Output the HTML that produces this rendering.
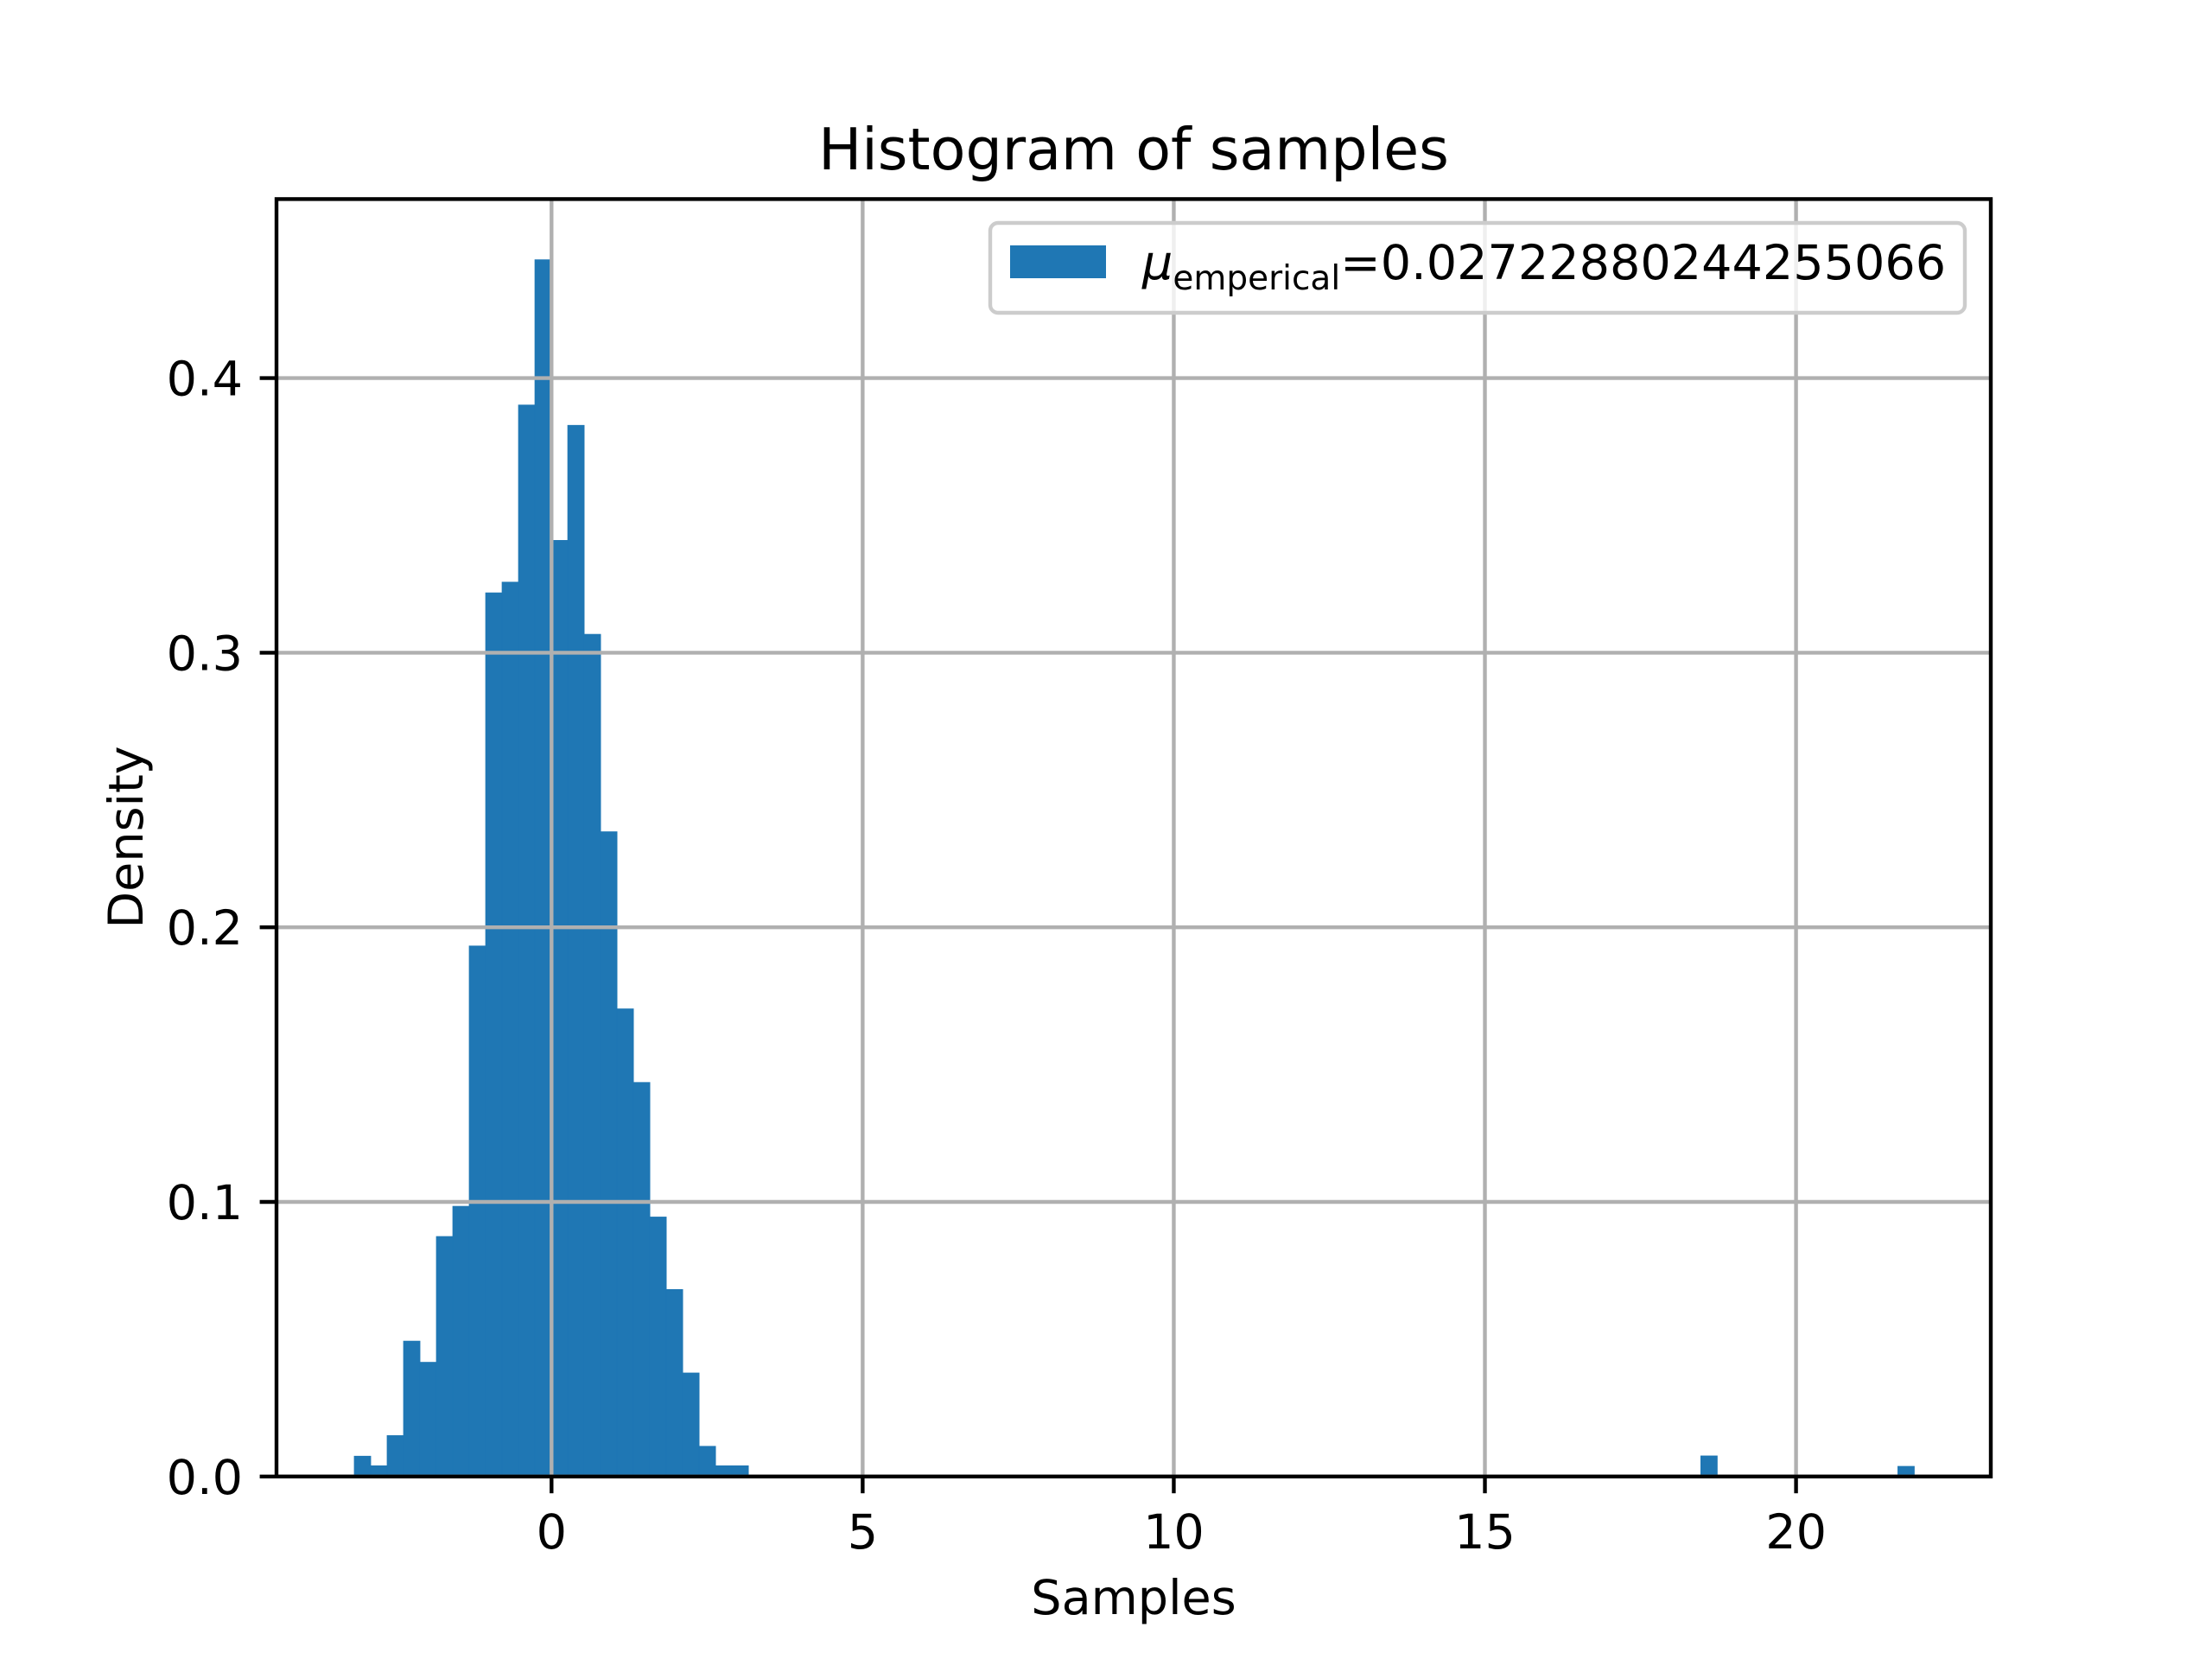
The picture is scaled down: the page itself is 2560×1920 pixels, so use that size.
<!DOCTYPE html>
<html><head><meta charset="utf-8"><style>
html,body{margin:0;padding:0;background:#fff}
svg{display:block}
text{font-family:"DejaVu Sans","Liberation Sans",sans-serif;fill:#000}
</style></head><body>
<svg id="chart" width="2560" height="1920" viewBox="0 0 2560 1920" xmlns="http://www.w3.org/2000/svg">
<rect width="2560" height="1920" fill="#fff"/>
<text x="1312" y="196" font-size="66.7" text-anchor="middle">Histogram of samples</text>
<g id="bars"></g>
<g id="grid"></g>
<g id="axes"></g>
<text x="1312" y="1868" font-size="55.6" text-anchor="middle">Samples</text>
<text transform="translate(165,969) rotate(-90)" font-size="55.6" text-anchor="middle">Density</text>
<g>
<rect x="1146" y="258" width="1128" height="104" rx="9" fill="#fff" fill-opacity="0.8" stroke="#cccccc" stroke-width="4.4"/>
<rect x="1169" y="284" width="111" height="38" fill="#1f77b4"/>
<text x="1322" y="323" font-size="55.6"><tspan font-style="italic">μ</tspan><tspan font-size="39" dy="12">emperical</tspan><tspan dy="-12">=0.02722880244255066</tspan></text>
</g>
</svg>
<script>
const binStart = -3.17;
const binWidth = 0.2639;
const binIndex = [0,1,2,3,4,5,6,7,8,9,10,11,12,13,14,15,16,17,18,19,20,21,22,23,82,94];
const density = [0.0074,0.0039,0.0149,0.0493,0.0416,0.0874,0.0984,0.1932,0.3218,0.3257,0.3902,0.4431,0.3409,0.3828,0.3067,0.2348,0.1703,0.1435,0.0945,0.0681,0.0377,0.0110,0.0039,0.0039,0.0075,0.0037];
const xTicks = [0,5,10,15,20];
const yTicks = [0.0,0.1,0.2,0.3,0.4];
const yTickLabels = ["0.0","0.1","0.2","0.3","0.4"];

const L=320,R=2304,T=230.4,B=1708.8;
const xMin=-4.42,xMax=23.13,yMin=0,yMax=0.4652;
const sx=v=>L+(v-xMin)/(xMax-xMin)*(R-L);
const sy=v=>B-(v-yMin)/(yMax-yMin)*(B-T);
const NS="http://www.w3.org/2000/svg";
function mk(tag,attrs,parent){const e=document.createElementNS(NS,tag);for(const k in attrs)e.setAttribute(k,attrs[k]);parent.appendChild(e);return e;}
const bars=document.getElementById('bars');
binIndex.forEach((bi,i)=>{
  const x0=sx(binStart+bi*binWidth),x1=sx(binStart+(bi+1)*binWidth);
  const r=mk('rect',{x:x0,y:sy(density[i]),width:x1-x0,height:B-sy(density[i]),fill:'#1f77b4',stroke:'#1f77b4','stroke-width':0.8},bars);
  
  
});
const grid=document.getElementById('grid');
const axes=document.getElementById('axes');
xTicks.forEach(t=>{
  const x=sx(t);
  const g=mk('line',{x1:x,x2:x,y1:T,y2:B,stroke:'#b0b0b0','stroke-width':4.4},grid);
  
  
  mk('line',{x1:x,x2:x,y1:B,y2:B+19.4,stroke:'#000','stroke-width':4.4},axes);
  const tx=mk('text',{x:x,y:B+83,'font-size':55.6,'text-anchor':'middle'},axes);
  tx.textContent=String(t);
  
  
});
yTicks.forEach((t,i)=>{
  const y=sy(t);
  const g=mk('line',{x1:L,x2:R,y1:y,y2:y,stroke:'#b0b0b0','stroke-width':4.4},grid);
  
  
  mk('line',{x1:L-19.4,x2:L,y1:y,y2:y,stroke:'#000','stroke-width':4.4},axes);
  const tx=mk('text',{x:L-39,y:y+20,'font-size':55.6,'text-anchor':'end'},axes);
  tx.textContent=yTickLabels[i];
  
  
});
const frame=mk('rect',{x:L,y:T,width:R-L,height:B-T,fill:'none',stroke:'#000','stroke-width':4.4},axes);


</script>
</body></html>
